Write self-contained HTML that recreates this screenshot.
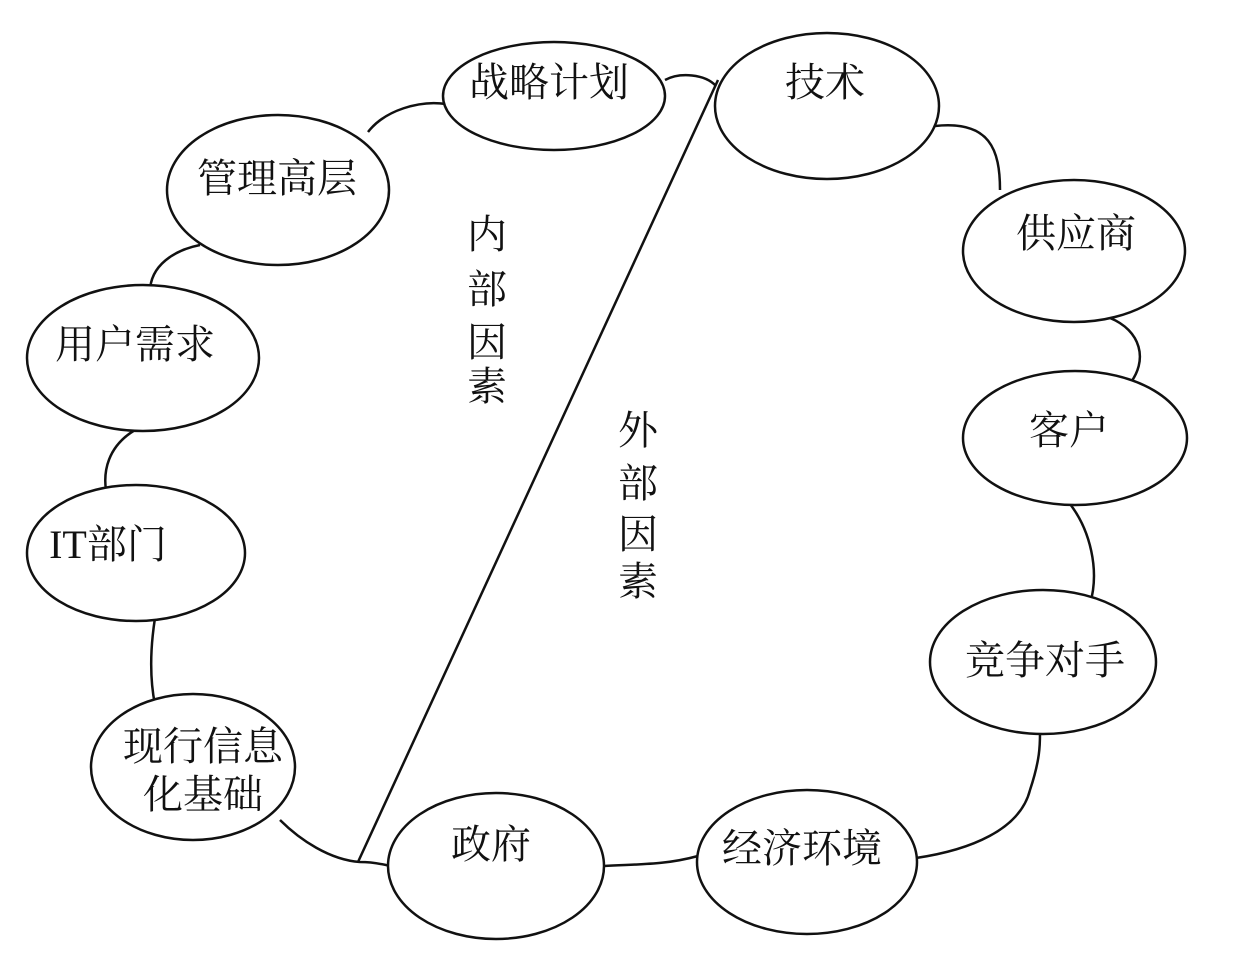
<!DOCTYPE html>
<html><head><meta charset="utf-8"><style>
html,body{margin:0;padding:0;background:#fff;}
svg{display:block;}
text{font-family:"Liberation Serif","Noto Serif CJK SC","Noto Sans CJK SC",serif;font-size:40px;fill:#111;}
</style></head><body>
<svg width="1254" height="972" viewBox="0 0 1254 972" xmlns="http://www.w3.org/2000/svg">
<g fill="none" stroke="#111" stroke-width="2.5">
<!-- connectors -->
<path d="M665,80 C680,72 705,74 716,86"/>
<path d="M446,104 C420,100 385,110 368,132"/>
<path d="M200,245 C175,250 150,265 150,292"/>
<path d="M135,430 C110,445 100,470 108,500"/>
<path d="M155,618 C150,650 150,680 155,705"/>
<path d="M280,820 C300,840 330,860 360,862 C372,862 382,864 390,866"/>
<path d="M604,866 C640,864 665,865 698,856"/>
<path d="M916,858 C970,850 1020,830 1030,790 C1040,760 1040,745 1040,733"/>
<path d="M1070,504 C1090,530 1100,570 1090,604"/>
<path d="M1110,318 C1140,330 1150,360 1128,386"/>
<path d="M935,126 C990,120 1000,150 1000,190"/>
<!-- diagonal -->
<line x1="718" y1="80" x2="358" y2="862"/>
<!-- ellipses -->
<ellipse cx="554" cy="96" rx="111" ry="54" fill="#fff"/>
<ellipse cx="827" cy="106" rx="112" ry="73" fill="#fff"/>
<ellipse cx="278" cy="190" rx="111" ry="75" fill="#fff"/>
<ellipse cx="1074" cy="251" rx="111" ry="71" fill="#fff"/>
<ellipse cx="143" cy="358" rx="116" ry="73" fill="#fff"/>
<ellipse cx="1075" cy="438" rx="112" ry="67" fill="#fff"/>
<ellipse cx="136" cy="553" rx="109" ry="68" fill="#fff"/>
<ellipse cx="1043" cy="662" rx="113" ry="72" fill="#fff"/>
<ellipse cx="193" cy="767" rx="102" ry="73" fill="#fff"/>
<ellipse cx="496" cy="866" rx="108" ry="73" fill="#fff"/>
<ellipse cx="807" cy="862" rx="110" ry="72" fill="#fff"/>
</g>
<g text-anchor="middle">
<text x="549" y="96">战略计划</text>
<text x="825" y="96">技术</text>
<text x="277" y="192">管理高层</text>
<text x="1076" y="247">供应商</text>
<text x="135" y="358">用户需求</text>
<text x="1069" y="444">客户</text>
<text x="108" y="558">IT部门</text>
<text x="1045" y="674">竞争对手</text>
<text x="203" y="760">现行信息</text>
<text x="203" y="808">化基础</text>
<text x="491" y="858">政府</text>
<text x="802" y="862">经济环境</text>
<text x="487" y="248">内</text>
<text x="487" y="303">部</text>
<text x="487" y="356">因</text>
<text x="487" y="400">素</text>
<text x="638" y="444">外</text>
<text x="638" y="497">部</text>
<text x="638" y="548">因</text>
<text x="638" y="595">素</text>
</g>
</svg>
</body></html>
